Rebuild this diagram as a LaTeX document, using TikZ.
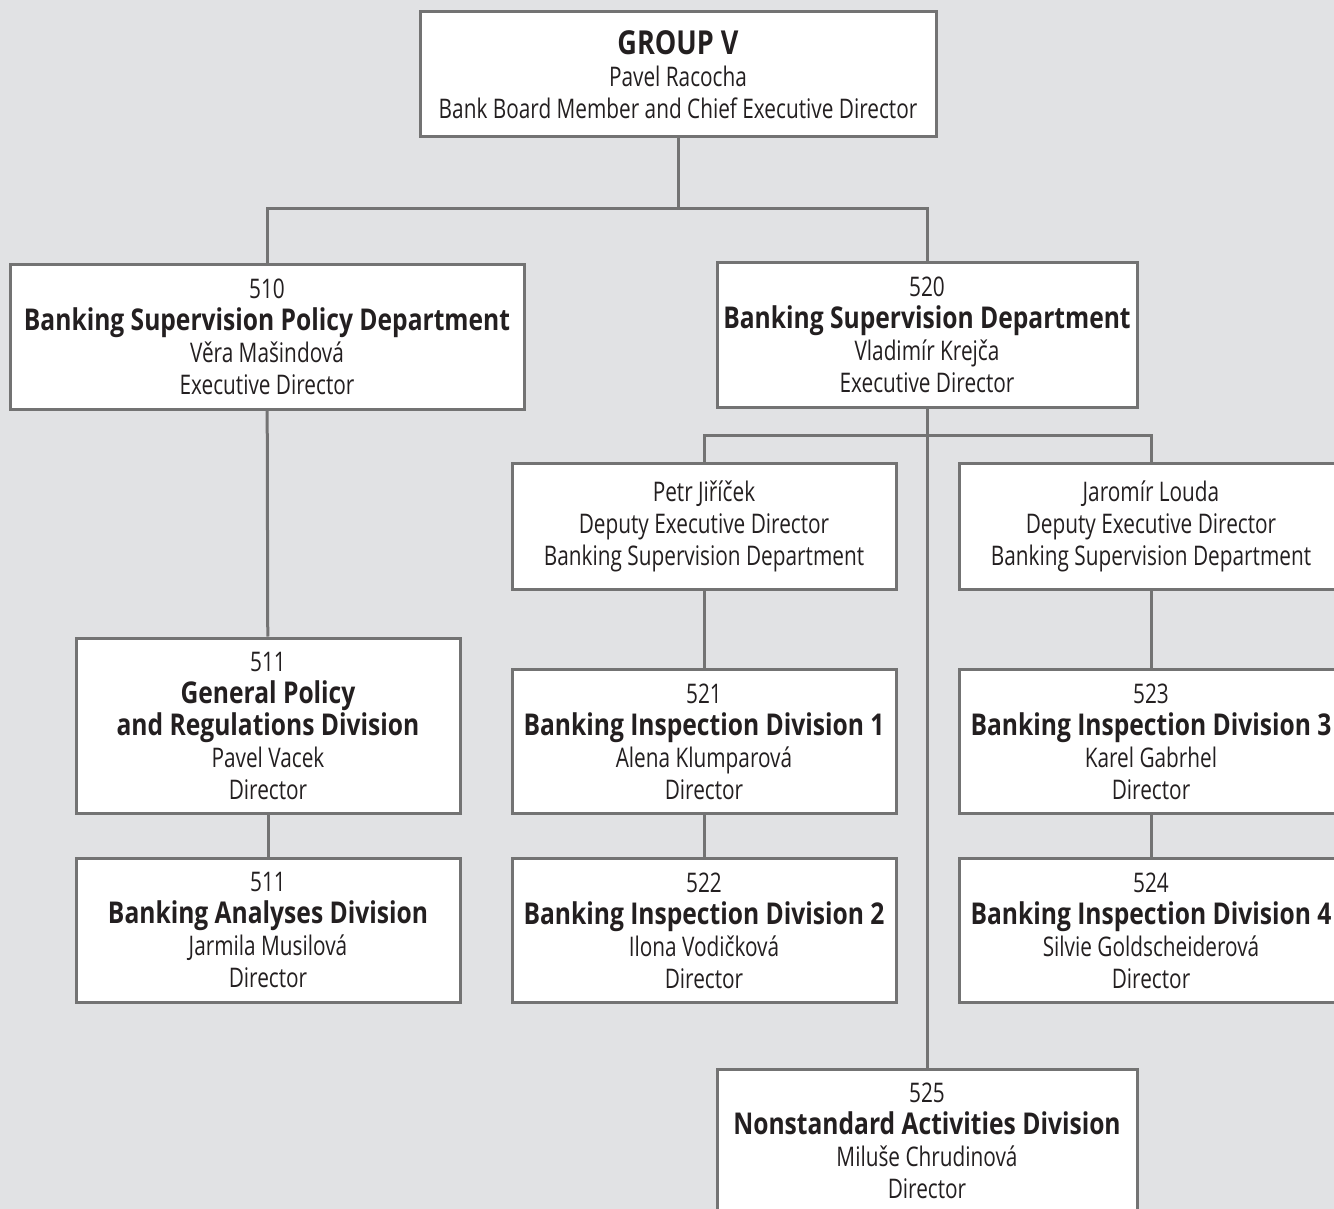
\documentclass[tikz,border=0pt]{standalone}
\usepackage{fontspec}
\setmainfont{Open Sans}[FakeStretch=0.77, BoldFeatures={FakeStretch=0.82}]
\usetikzlibrary{positioning}

\definecolor{pagegray}{HTML}{E1E2E4}
\definecolor{linegray}{HTML}{737373}
\definecolor{inkblack}{HTML}{231F20}

% bold unit name inside a box
\newcommand\unitname[1]{{\fontsize{15}{16}\selectfont\bfseries #1}}

\begin{document}
\begin{tikzpicture}[x=0.5pt, y=-0.5pt, node distance=21pt,
  box/.style={draw=linegray, line width=1.5pt, fill=white, align=center, text=inkblack,
    inner sep=0pt, minimum width=192pt, minimum height=72pt, font=\fontsize{13.5}{16}\selectfont},
  link/.style={draw=linegray, line width=1.5pt}]
\useasboundingbox (0,0) rectangle (1334,1209);
\clip (0,0) rectangle (1334,1209);
\fill[pagegray] (0,0) rectangle (1334,1209);

% board member
\node[box, minimum width=258pt, minimum height=62.5pt] (group) at (678,74.5)
  {{\fontsize{16.5}{18}\selectfont\bfseries GROUP V}\\Pavel Racocha\\Bank Board Member and Chief Executive Director};

% departments
\node[box, minimum width=257pt] (d510) at (267,337)
  {510\\\unitname{Banking Supervision Policy Department}\\Věra Mašindová\\Executive Director};
\node[box, minimum width=210pt] (d520) at (927,335)
  {520\\\unitname{Banking Supervision Department}\\Vladimír Krejča\\Executive Director};

% deputies
\node[box, minimum height=63pt] (jiricek) at (704,526)
  {Petr Jiříček\\Deputy Executive Director\\Banking Supervision Department};
\node[box, minimum height=63pt] (louda) at (1151,526)
  {Jaromír Louda\\Deputy Executive Director\\Banking Supervision Department};

% divisions
\node[box, minimum height=87.5pt] (d511) at (268,725.5)
  {511\\\unitname{General Policy}\\\unitname{and Regulations Division}\\Pavel Vacek\\Director};
\node[box] (d521) at (704,741.5)
  {521\\\unitname{Banking Inspection Division 1}\\Alena Klumparová\\Director};
\node[box] (d523) at (1151,741.5)
  {523\\\unitname{Banking Inspection Division 3}\\Karel Gabrhel\\Director};
\node[box, below=of d511] (d511b)
  {511\\\unitname{Banking Analyses Division}\\Jarmila Musilová\\Director};
\node[box, below=of d521] (d522)
  {522\\\unitname{Banking Inspection Division 2}\\Ilona Vodičková\\Director};
\node[box, below=of d523] (d524)
  {524\\\unitname{Banking Inspection Division 4}\\Silvie Goldscheiderová\\Director};
\node[box, minimum width=210pt] (d525) at (927,1141)
  {525\\\unitname{Nonstandard Activities Division}\\Miluše Chrudinová\\Director};

% connectors
\coordinate (bus1) at (678,209);
\coordinate (bus2) at (927,435);
\draw[link] (group.south) -- (bus1);
\draw[link] (d510.north) |- (bus1) -| (d520.north);
\draw[link] (d520.south) -- (d525.north);
\draw[link] (jiricek.north) |- (bus2) -| (louda.north);
\draw[link] (d510) -- (d511);
\draw[link] (d511) -- (d511b);
\draw[link] (jiricek) -- (d521);
\draw[link] (d521) -- (d522);
\draw[link] (louda) -- (d523);
\draw[link] (d523) -- (d524);
\end{tikzpicture}
\end{document}
